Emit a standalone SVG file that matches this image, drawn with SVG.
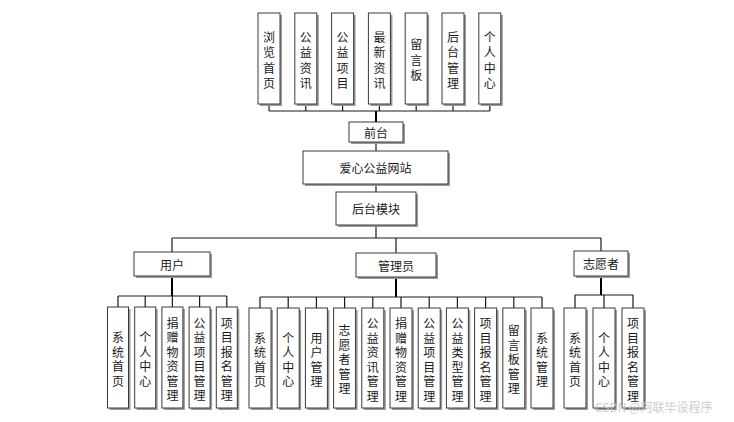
<svg xmlns="http://www.w3.org/2000/svg" width="734" height="422" viewBox="0 0 734 422">
<style>
.sh{fill:#9a9a9a}
.bx{fill:#fff;stroke:#3a3a3a;stroke-width:1}
.t{font-family:"Noto Sans CJK SC","Liberation Sans",sans-serif;font-size:12px;fill:#1a1a1a;text-anchor:middle;dominant-baseline:central}
.ln{stroke:#1a1a1a;stroke-width:1.2;fill:none}
.th{stroke:#000;stroke-width:2;fill:none}
.wm{font-family:"Noto Sans CJK SC","Liberation Sans",sans-serif;font-size:12px;fill:#c8c8c8;opacity:0.9}
</style>
<rect width="734" height="422" fill="#fff"/>
<g id="connectors">
<path class="ln" d="M269 104V111M305.8 104V111M342.6 104V111M379.4 104V111M416.2 104V111M453 104V111M489.8 104V111M269 111H489.8"/>
<path class="th" d="M376 111V122"/>
<path class="ln" d="M376 142V151M376 184V192M376 225V238M172 238H601M172 238V252M396 238V253M601 238V251"/>
<path class="th" d="M172 276V296M396 277V297M601 276V295"/>
<path class="ln" d="M118 296H226.8M118 296V307M145.2 296V307M172.4 296V307M199.6 296V307M226.8 296V307"/>
<path class="ln" d="M260 297H542M260 297V308M288.2 297V308M316.4 297V308M344.6 297V308M372.8 297V308M401 297V308M429.2 297V308M457.4 297V308M485.6 297V308M513.8 297V308M542 297V308"/>
<path class="ln" d="M575 295H633M575 295V308M604 295V308M633 295V308"/>
</g>
<g id="top">
<g id="n-liulan"><rect class="sh" x="260" y="15" width="22" height="91"/><rect class="bx" x="258" y="13" width="22" height="91"/><text class="t"><tspan x="269" y="35.5">浏</tspan><tspan x="269" y="51">览</tspan><tspan x="269" y="66.5">首</tspan><tspan x="269" y="82">页</tspan></text></g>
<g id="n-gyzx"><rect class="sh" x="296.8" y="15" width="22" height="91"/><rect class="bx" x="294.8" y="13" width="22" height="91"/><text class="t"><tspan x="305.8" y="35.5">公</tspan><tspan x="305.8" y="51">益</tspan><tspan x="305.8" y="66.5">资</tspan><tspan x="305.8" y="82">讯</tspan></text></g>
<g id="n-gyxm"><rect class="sh" x="333.6" y="15" width="22" height="91"/><rect class="bx" x="331.6" y="13" width="22" height="91"/><text class="t"><tspan x="342.6" y="35.5">公</tspan><tspan x="342.6" y="51">益</tspan><tspan x="342.6" y="66.5">项</tspan><tspan x="342.6" y="82">目</tspan></text></g>
<g id="n-zxzx"><rect class="sh" x="370.4" y="15" width="22" height="91"/><rect class="bx" x="368.4" y="13" width="22" height="91"/><text class="t"><tspan x="379.4" y="35.5">最</tspan><tspan x="379.4" y="51">新</tspan><tspan x="379.4" y="66.5">资</tspan><tspan x="379.4" y="82">讯</tspan></text></g>
<g id="n-lyb"><rect class="sh" x="407.2" y="15" width="22" height="91"/><rect class="bx" x="405.2" y="13" width="22" height="91"/><text class="t"><tspan x="416.2" y="43">留</tspan><tspan x="416.2" y="58.5">言</tspan><tspan x="416.2" y="74">板</tspan></text></g>
<g id="n-htgl"><rect class="sh" x="444" y="15" width="22" height="91"/><rect class="bx" x="442" y="13" width="22" height="91"/><text class="t"><tspan x="453" y="35.5">后</tspan><tspan x="453" y="51">台</tspan><tspan x="453" y="66.5">管</tspan><tspan x="453" y="82">理</tspan></text></g>
<g id="n-grzx"><rect class="sh" x="480.8" y="15" width="22" height="91"/><rect class="bx" x="478.8" y="13" width="22" height="91"/><text class="t"><tspan x="489.8" y="35.5">个</tspan><tspan x="489.8" y="51">人</tspan><tspan x="489.8" y="66.5">中</tspan><tspan x="489.8" y="82">心</tspan></text></g>
</g>
<g id="n-qiantai"><rect class="sh" x="351" y="124" width="54" height="20"/><rect class="bx" x="349" y="122" width="54" height="20"/><text class="t" x="376" y="132">前台</text></g>
<g id="n-site"><rect class="sh" x="305" y="153" width="145" height="33"/><rect class="bx" x="303" y="151" width="145" height="33"/><text class="t" x="375.5" y="167.5">爱心公益网站</text></g>
<g id="n-houtai"><rect class="sh" x="338" y="194" width="80" height="33"/><rect class="bx" x="336" y="192" width="80" height="33"/><text class="t" x="376" y="208.5">后台模块</text></g>
<g id="n-user"><rect class="sh" x="136" y="254" width="76" height="24"/><rect class="bx" x="134" y="252" width="76" height="24"/><text class="t" x="172" y="264">用户</text></g>
<g id="n-admin"><rect class="sh" x="358" y="255" width="80" height="24"/><rect class="bx" x="356" y="253" width="80" height="24"/><text class="t" x="396" y="265">管理员</text></g>
<g id="n-vol"><rect class="sh" x="576" y="253" width="54" height="25"/><rect class="bx" x="574" y="251" width="54" height="25"/><text class="t" x="601" y="263.5">志愿者</text></g>
<g id="user-children">
<g id="u1"><rect class="sh" x="109.5" y="309" width="21" height="101"/><rect class="bx" x="107.5" y="307" width="21" height="101"/><text class="t"><tspan x="118" y="336">系</tspan><tspan x="118" y="350.5">统</tspan><tspan x="118" y="365">首</tspan><tspan x="118" y="379.5">页</tspan></text></g>
<g id="u2"><rect class="sh" x="136.7" y="309" width="21" height="101"/><rect class="bx" x="134.7" y="307" width="21" height="101"/><text class="t"><tspan x="145.2" y="336">个</tspan><tspan x="145.2" y="350.5">人</tspan><tspan x="145.2" y="365">中</tspan><tspan x="145.2" y="379.5">心</tspan></text></g>
<g id="u3"><rect class="sh" x="163.9" y="309" width="21" height="101"/><rect class="bx" x="161.9" y="307" width="21" height="101"/><text class="t"><tspan x="172.4" y="321.5">捐</tspan><tspan x="172.4" y="336">赠</tspan><tspan x="172.4" y="350.5">物</tspan><tspan x="172.4" y="365">资</tspan><tspan x="172.4" y="379.5">管</tspan><tspan x="172.4" y="394">理</tspan></text></g>
<g id="u4"><rect class="sh" x="191.1" y="309" width="21" height="101"/><rect class="bx" x="189.1" y="307" width="21" height="101"/><text class="t"><tspan x="199.6" y="321.5">公</tspan><tspan x="199.6" y="336">益</tspan><tspan x="199.6" y="350.5">项</tspan><tspan x="199.6" y="365">目</tspan><tspan x="199.6" y="379.5">管</tspan><tspan x="199.6" y="394">理</tspan></text></g>
<g id="u5"><rect class="sh" x="218.3" y="309" width="21" height="101"/><rect class="bx" x="216.3" y="307" width="21" height="101"/><text class="t"><tspan x="226.8" y="321.5">项</tspan><tspan x="226.8" y="336">目</tspan><tspan x="226.8" y="350.5">报</tspan><tspan x="226.8" y="365">名</tspan><tspan x="226.8" y="379.5">管</tspan><tspan x="226.8" y="394">理</tspan></text></g>
</g>
<g id="admin-children">
<g id="a1"><rect class="sh" x="251" y="310" width="22" height="100"/><rect class="bx" x="249" y="308" width="22" height="100"/><text class="t"><tspan x="260" y="336.5">系</tspan><tspan x="260" y="351">统</tspan><tspan x="260" y="365.5">首</tspan><tspan x="260" y="380">页</tspan></text></g>
<g id="a2"><rect class="sh" x="279.2" y="310" width="22" height="100"/><rect class="bx" x="277.2" y="308" width="22" height="100"/><text class="t"><tspan x="288.2" y="336.5">个</tspan><tspan x="288.2" y="351">人</tspan><tspan x="288.2" y="365.5">中</tspan><tspan x="288.2" y="380">心</tspan></text></g>
<g id="a3"><rect class="sh" x="307.4" y="310" width="22" height="100"/><rect class="bx" x="305.4" y="308" width="22" height="100"/><text class="t"><tspan x="316.4" y="336.5">用</tspan><tspan x="316.4" y="351">户</tspan><tspan x="316.4" y="365.5">管</tspan><tspan x="316.4" y="380">理</tspan></text></g>
<g id="a4"><rect class="sh" x="335.6" y="310" width="22" height="100"/><rect class="bx" x="333.6" y="308" width="22" height="100"/><text class="t"><tspan x="344.6" y="329">志</tspan><tspan x="344.6" y="343.5">愿</tspan><tspan x="344.6" y="358">者</tspan><tspan x="344.6" y="372.5">管</tspan><tspan x="344.6" y="387">理</tspan></text></g>
<g id="a5"><rect class="sh" x="363.8" y="310" width="22" height="100"/><rect class="bx" x="361.8" y="308" width="22" height="100"/><text class="t"><tspan x="372.8" y="322">公</tspan><tspan x="372.8" y="336.5">益</tspan><tspan x="372.8" y="351">资</tspan><tspan x="372.8" y="365.5">讯</tspan><tspan x="372.8" y="380">管</tspan><tspan x="372.8" y="394.5">理</tspan></text></g>
<g id="a6"><rect class="sh" x="392" y="310" width="22" height="100"/><rect class="bx" x="390" y="308" width="22" height="100"/><text class="t"><tspan x="401" y="322">捐</tspan><tspan x="401" y="336.5">赠</tspan><tspan x="401" y="351">物</tspan><tspan x="401" y="365.5">资</tspan><tspan x="401" y="380">管</tspan><tspan x="401" y="394.5">理</tspan></text></g>
<g id="a7"><rect class="sh" x="420.2" y="310" width="22" height="100"/><rect class="bx" x="418.2" y="308" width="22" height="100"/><text class="t"><tspan x="429.2" y="322">公</tspan><tspan x="429.2" y="336.5">益</tspan><tspan x="429.2" y="351">项</tspan><tspan x="429.2" y="365.5">目</tspan><tspan x="429.2" y="380">管</tspan><tspan x="429.2" y="394.5">理</tspan></text></g>
<g id="a8"><rect class="sh" x="448.4" y="310" width="22" height="100"/><rect class="bx" x="446.4" y="308" width="22" height="100"/><text class="t"><tspan x="457.4" y="322">公</tspan><tspan x="457.4" y="336.5">益</tspan><tspan x="457.4" y="351">类</tspan><tspan x="457.4" y="365.5">型</tspan><tspan x="457.4" y="380">管</tspan><tspan x="457.4" y="394.5">理</tspan></text></g>
<g id="a9"><rect class="sh" x="476.6" y="310" width="22" height="100"/><rect class="bx" x="474.6" y="308" width="22" height="100"/><text class="t"><tspan x="485.6" y="322">项</tspan><tspan x="485.6" y="336.5">目</tspan><tspan x="485.6" y="351">报</tspan><tspan x="485.6" y="365.5">名</tspan><tspan x="485.6" y="380">管</tspan><tspan x="485.6" y="394.5">理</tspan></text></g>
<g id="a10"><rect class="sh" x="504.8" y="310" width="22" height="100"/><rect class="bx" x="502.8" y="308" width="22" height="100"/><text class="t"><tspan x="513.8" y="329">留</tspan><tspan x="513.8" y="343.5">言</tspan><tspan x="513.8" y="358">板</tspan><tspan x="513.8" y="372.5">管</tspan><tspan x="513.8" y="387">理</tspan></text></g>
<g id="a11"><rect class="sh" x="533" y="310" width="22" height="100"/><rect class="bx" x="531" y="308" width="22" height="100"/><text class="t"><tspan x="542" y="336.5">系</tspan><tspan x="542" y="351">统</tspan><tspan x="542" y="365.5">管</tspan><tspan x="542" y="380">理</tspan></text></g>
</g>
<g id="vol-children">
<g id="v1"><rect class="sh" x="566" y="310" width="22" height="100"/><rect class="bx" x="564" y="308" width="22" height="100"/><text class="t"><tspan x="575" y="336.5">系</tspan><tspan x="575" y="351">统</tspan><tspan x="575" y="365.5">首</tspan><tspan x="575" y="380">页</tspan></text></g>
<g id="v2"><rect class="sh" x="595" y="310" width="22" height="100"/><rect class="bx" x="593" y="308" width="22" height="100"/><text class="t"><tspan x="604" y="336.5">个</tspan><tspan x="604" y="351">人</tspan><tspan x="604" y="365.5">中</tspan><tspan x="604" y="380">心</tspan></text></g>
<g id="v3"><rect class="sh" x="624" y="310" width="22" height="100"/><rect class="bx" x="622" y="308" width="22" height="100"/><text class="t"><tspan x="633" y="322">项</tspan><tspan x="633" y="336.5">目</tspan><tspan x="633" y="351">报</tspan><tspan x="633" y="365.5">名</tspan><tspan x="633" y="380">管</tspan><tspan x="633" y="394.5">理</tspan></text></g>
</g>
<text class="wm" x="595" y="412">CSDN @阿联毕设程序</text>
</svg>
